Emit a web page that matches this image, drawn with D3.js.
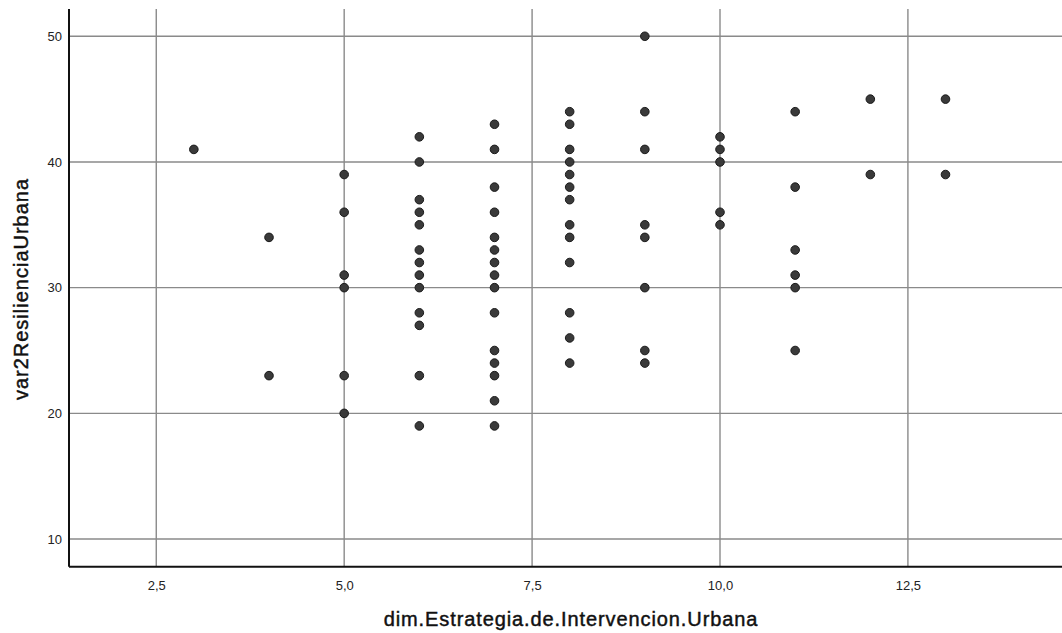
<!DOCTYPE html>
<html><head><meta charset="utf-8">
<script src="https://cdn.jsdelivr.net/npm/d3@7"></script>
<style>body{margin:0;background:#fff}svg{display:block}</style>
</head><body>
<script>
const xValues = [3,4,4,5,5,5,5,5,5,
  6,6,6,6,6,6,6,6,6,6,6,6,6,
  7,7,7,7,7,7,7,7,7,7,7,7,7,7,7,
  8,8,8,8,8,8,8,8,8,8,8,8,8,
  9,9,9,9,9,9,9,9,
  10,10,10,10,10,
  11,11,11,11,11,11,
  12,12,13,13];
const yValues = [41,34,23,39,36,31,30,23,20,
  42,40,37,36,35,33,32,31,30,28,27,23,19,
  43,41,38,36,34,33,32,31,30,28,25,24,23,21,19,
  44,43,41,40,39,38,37,35,34,32,28,26,24,
  50,44,41,35,34,30,25,24,
  42,41,40,36,35,
  44,38,33,31,30,25,
  45,39,45,39];
const xTicks = [2.5,5.0,7.5,10.0,12.5];
const yTicks = [10,20,30,40,50];
const xTitle = "dim.Estrategia.de.Intervencion.Urbana";
const yTitle = "var2ResilienciaUrbana";

(function(){
const W = 1062, H = 633;
const pL = 69, pR = 1062, pT = 9, pB = 566.7;
const svg = d3.select("body").append("svg").attr("width", W).attr("height", H);
const x = d3.scaleLinear().domain([1.339, 14.55]).range([pL, pR]);
const y = d3.scaleLinear().domain([7.80, 52.17]).range([pB, pT]);
const fmt = d => d3.format(".1f")(d).replace(".", ",");
const font = "Liberation Sans, Arial, sans-serif";

// grid
svg.append("g").selectAll("line").data(xTicks).join("line")
  .attr("x1", d => x(d)).attr("x2", d => x(d)).attr("y1", pT).attr("y2", pB)
  .attr("stroke", "#8a8a8a").attr("stroke-width", 1.4);
svg.append("g").selectAll("line").data(yTicks).join("line")
  .attr("x1", pL).attr("x2", pR).attr("y1", d => y(d)).attr("y2", d => y(d))
  .attr("stroke", "#8a8a8a").attr("stroke-width", 1.4);

// axes
const xAxis = svg.append("g").attr("transform", `translate(0,${pB})`)
  .call(d3.axisBottom(x).tickValues(xTicks).tickFormat(fmt).tickSize(0).tickPadding(14));
const yAxis = svg.append("g").attr("transform", `translate(${pL},0)`)
  .call(d3.axisLeft(y).tickValues(yTicks).tickFormat(d3.format("d")).tickSize(0).tickPadding(7));
[xAxis, yAxis].forEach(g => {
  g.select(".domain").attr("stroke", "#111").attr("stroke-width", 2);
  g.selectAll("text").attr("font-family", font)
    .attr("font-size", 13).attr("fill", "#222");
});
xAxis.select(".domain").attr("d", `M${pL},0H${pR}`);
yAxis.select(".domain").attr("d", `M0,${pT}V${pB}`);

// points
svg.append("g").selectAll("circle").data(xValues.map((v, i) => [v, yValues[i]])).join("circle")
  .attr("cx", d => x(d[0])).attr("cy", d => y(d[1])).attr("r", 4.3)
  .attr("fill", "#3a3a3a").attr("stroke", "#1a1a1a").attr("stroke-width", 1);

// titles
svg.append("text").attr("x", 571).attr("y", 626).attr("text-anchor", "middle")
  .attr("font-family", font).attr("font-size", 20).attr("letter-spacing", 0.9)
  .attr("fill", "#111").attr("stroke", "#111").attr("stroke-width", 0.45).text(xTitle);
svg.append("text").attr("transform", "translate(28,289) rotate(-90)").attr("text-anchor", "middle")
  .attr("font-family", font).attr("font-size", 20).attr("letter-spacing", 1)
  .attr("fill", "#111").attr("stroke", "#111").attr("stroke-width", 0.45).text(yTitle);
})();
</script>
</body></html>
